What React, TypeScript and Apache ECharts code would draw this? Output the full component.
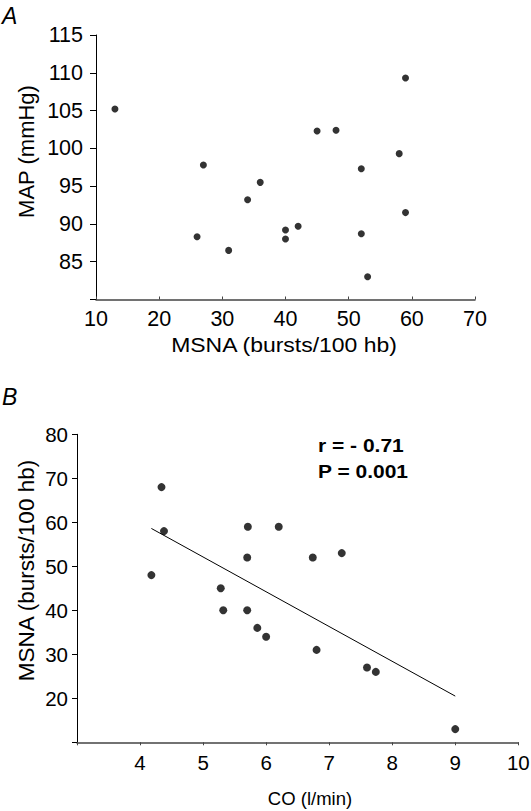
import React, { useEffect, useRef } from "react";
import * as echarts from "echarts";

// Panel A: MSNA (bursts/100 hb) vs MAP (mmHg)
const msnaA: number[] = [13, 27, 26, 31, 34, 36, 40, 40, 42, 45, 48, 52, 52, 53, 58, 59, 59];
const mapA: number[] = [105.2, 97.8, 88.3, 86.5, 93.2, 95.5, 89.2, 88.0, 89.7, 102.3, 102.4, 97.3, 88.7, 83.0, 99.3, 109.3, 91.5];

// Panel B: CO (l/min) vs MSNA (bursts/100 hb)
const coB: number[] = [4.18, 4.34, 4.38, 5.28, 5.32, 5.70, 5.71, 5.70, 5.86, 6.0, 6.2, 6.74, 7.2, 6.8, 7.6, 7.74, 9.0];
const msnaB: number[] = [48, 68, 58, 45, 40, 40, 59, 52, 36, 34, 59, 52, 53, 31, 27, 26, 13];

// Regression line endpoints (CO, MSNA)
const fitX: number[] = [4.18, 9.0];
const fitY: number[] = [58.6, 20.5];

const statLines: string[] = ["r = - 0.71", "P = 0.001"];

const FONT = "'Liberation Sans', Arial, sans-serif";

export default function App() {
  const ref = useRef<HTMLDivElement>(null);
  useEffect(() => {
    if (!ref.current) return;
    const chart = echarts.init(ref.current, undefined, { renderer: "svg" });
    const axisLineX = { show: true, onZero: false, lineStyle: { color: "#444", width: 1.5 } };
    const axisLineY = { show: true, onZero: false, lineStyle: { color: "#000", width: 1 } };
    chart.setOption({
      animation: false,
      backgroundColor: "#fff",
      textStyle: { fontFamily: FONT },
      grid: [
        { left: 96, top: 35, width: 379, height: 264.5, containLabel: false, outerBoundsMode: "none" },
        { left: 77, top: 434.3, width: 441.3, height: 308, containLabel: false, outerBoundsMode: "none" },
      ],
      xAxis: [
        {
          gridIndex: 0, type: "value", min: 10, max: 70, interval: 10,
          axisLine: axisLineX,
          axisTick: { show: true, inside: true, length: 3, lineStyle: { color: "#444" } },
          axisLabel: { color: "#000", fontSize: 21.5, margin: 8, fontFamily: FONT },
          splitLine: { show: false },
        },
        {
          gridIndex: 1, type: "value", min: 3, max: 10, interval: 1,
          axisLine: axisLineX,
          axisTick: { show: true, length: 3, lineStyle: { color: "#444" } },
          axisLabel: {
            color: "#000", fontSize: 20.5, margin: 10, fontFamily: FONT,
            formatter: (v: number) => (v === 3 ? "" : String(v)),
          },
          splitLine: { show: false },
        },
      ],
      yAxis: [
        {
          gridIndex: 0, type: "value", min: 80, max: 115, interval: 5,
          axisLine: axisLineY,
          axisTick: { show: true, length: 6, lineStyle: { color: "#000" } },
          axisLabel: {
            color: "#000", fontSize: 21.5, margin: 13, fontFamily: FONT,
            formatter: (v: number) => (v === 80 ? "" : String(v)),
          },
          splitLine: { show: false },
        },
        {
          gridIndex: 1, type: "value", min: 10, max: 80, interval: 10,
          axisLine: axisLineY,
          axisTick: { show: true, length: 5, lineStyle: { color: "#000" } },
          axisLabel: {
            color: "#000", fontSize: 20.5, margin: 9, fontFamily: FONT,
            formatter: (v: number) => (v === 10 ? "" : String(v)),
          },
          splitLine: { show: false },
        },
      ],
      series: [
        {
          type: "scatter", xAxisIndex: 0, yAxisIndex: 0,
          data: msnaA.map((x, i) => [x, mapA[i]]),
          symbol: "circle", symbolSize: 7,
          itemStyle: { color: "#000" },
        },
        {
          type: "scatter", xAxisIndex: 1, yAxisIndex: 1,
          data: coB.map((x, i) => [x, msnaB[i]]),
          symbol: "circle", symbolSize: 8,
          itemStyle: { color: "#000" },
        },
        {
          type: "line", xAxisIndex: 1, yAxisIndex: 1,
          data: fitX.map((x, i) => [x, fitY[i]]),
          showSymbol: false, symbol: "none",
          lineStyle: { color: "#000", width: 1 },
        },
      ],
      graphic: [
        { type: "text", left: 2, top: 4, style: { text: "A", fontSize: 23, fontStyle: "italic", fontFamily: FONT, fill: "#000" } },
        { type: "text", left: 2, top: 385, style: { text: "B", fontSize: 23, fontStyle: "italic", fontFamily: FONT, fill: "#000" } },
        {
          type: "text", x: 26, y: 151.5, rotation: Math.PI / 2,
          style: { text: "MAP (mmHg)", fontSize: 22, fontFamily: FONT, fill: "#000", align: "center", verticalAlign: "middle" },
        },
        {
          type: "text", x: 284, y: 345, scaleX: 1.12,
          style: { text: "MSNA (bursts/100 hb)", fontSize: 20.5, fontFamily: FONT, fill: "#000", align: "center", verticalAlign: "middle" },
        },
        {
          type: "text", x: 26, y: 570.5, rotation: Math.PI / 2,
          style: { text: "MSNA (bursts/100 hb)", fontSize: 22.5, fontFamily: FONT, fill: "#000", align: "center", verticalAlign: "middle" },
        },
        {
          type: "text", x: 310, y: 798,
          style: { text: "CO (l/min)", fontSize: 18.5, fontFamily: FONT, fill: "#000", align: "center", verticalAlign: "middle" },
        },
        {
          type: "text", x: 318, y: 446, scaleX: 1.2,
          style: { text: statLines[0], fontSize: 17.5, fontWeight: "bold", fontFamily: FONT, fill: "#000", align: "left", verticalAlign: "middle" },
        },
        {
          type: "text", x: 318, y: 472, scaleX: 1.2,
          style: { text: statLines[1], fontSize: 17.5, fontWeight: "bold", fontFamily: FONT, fill: "#000", align: "left", verticalAlign: "middle" },
        },
      ],
    });
    return () => chart.dispose();
  }, []);
  return (
    <div
      ref={ref}
      style={{ position: "absolute", left: 0, top: 0, width: 531, height: 811 }}
    />
  );
}
